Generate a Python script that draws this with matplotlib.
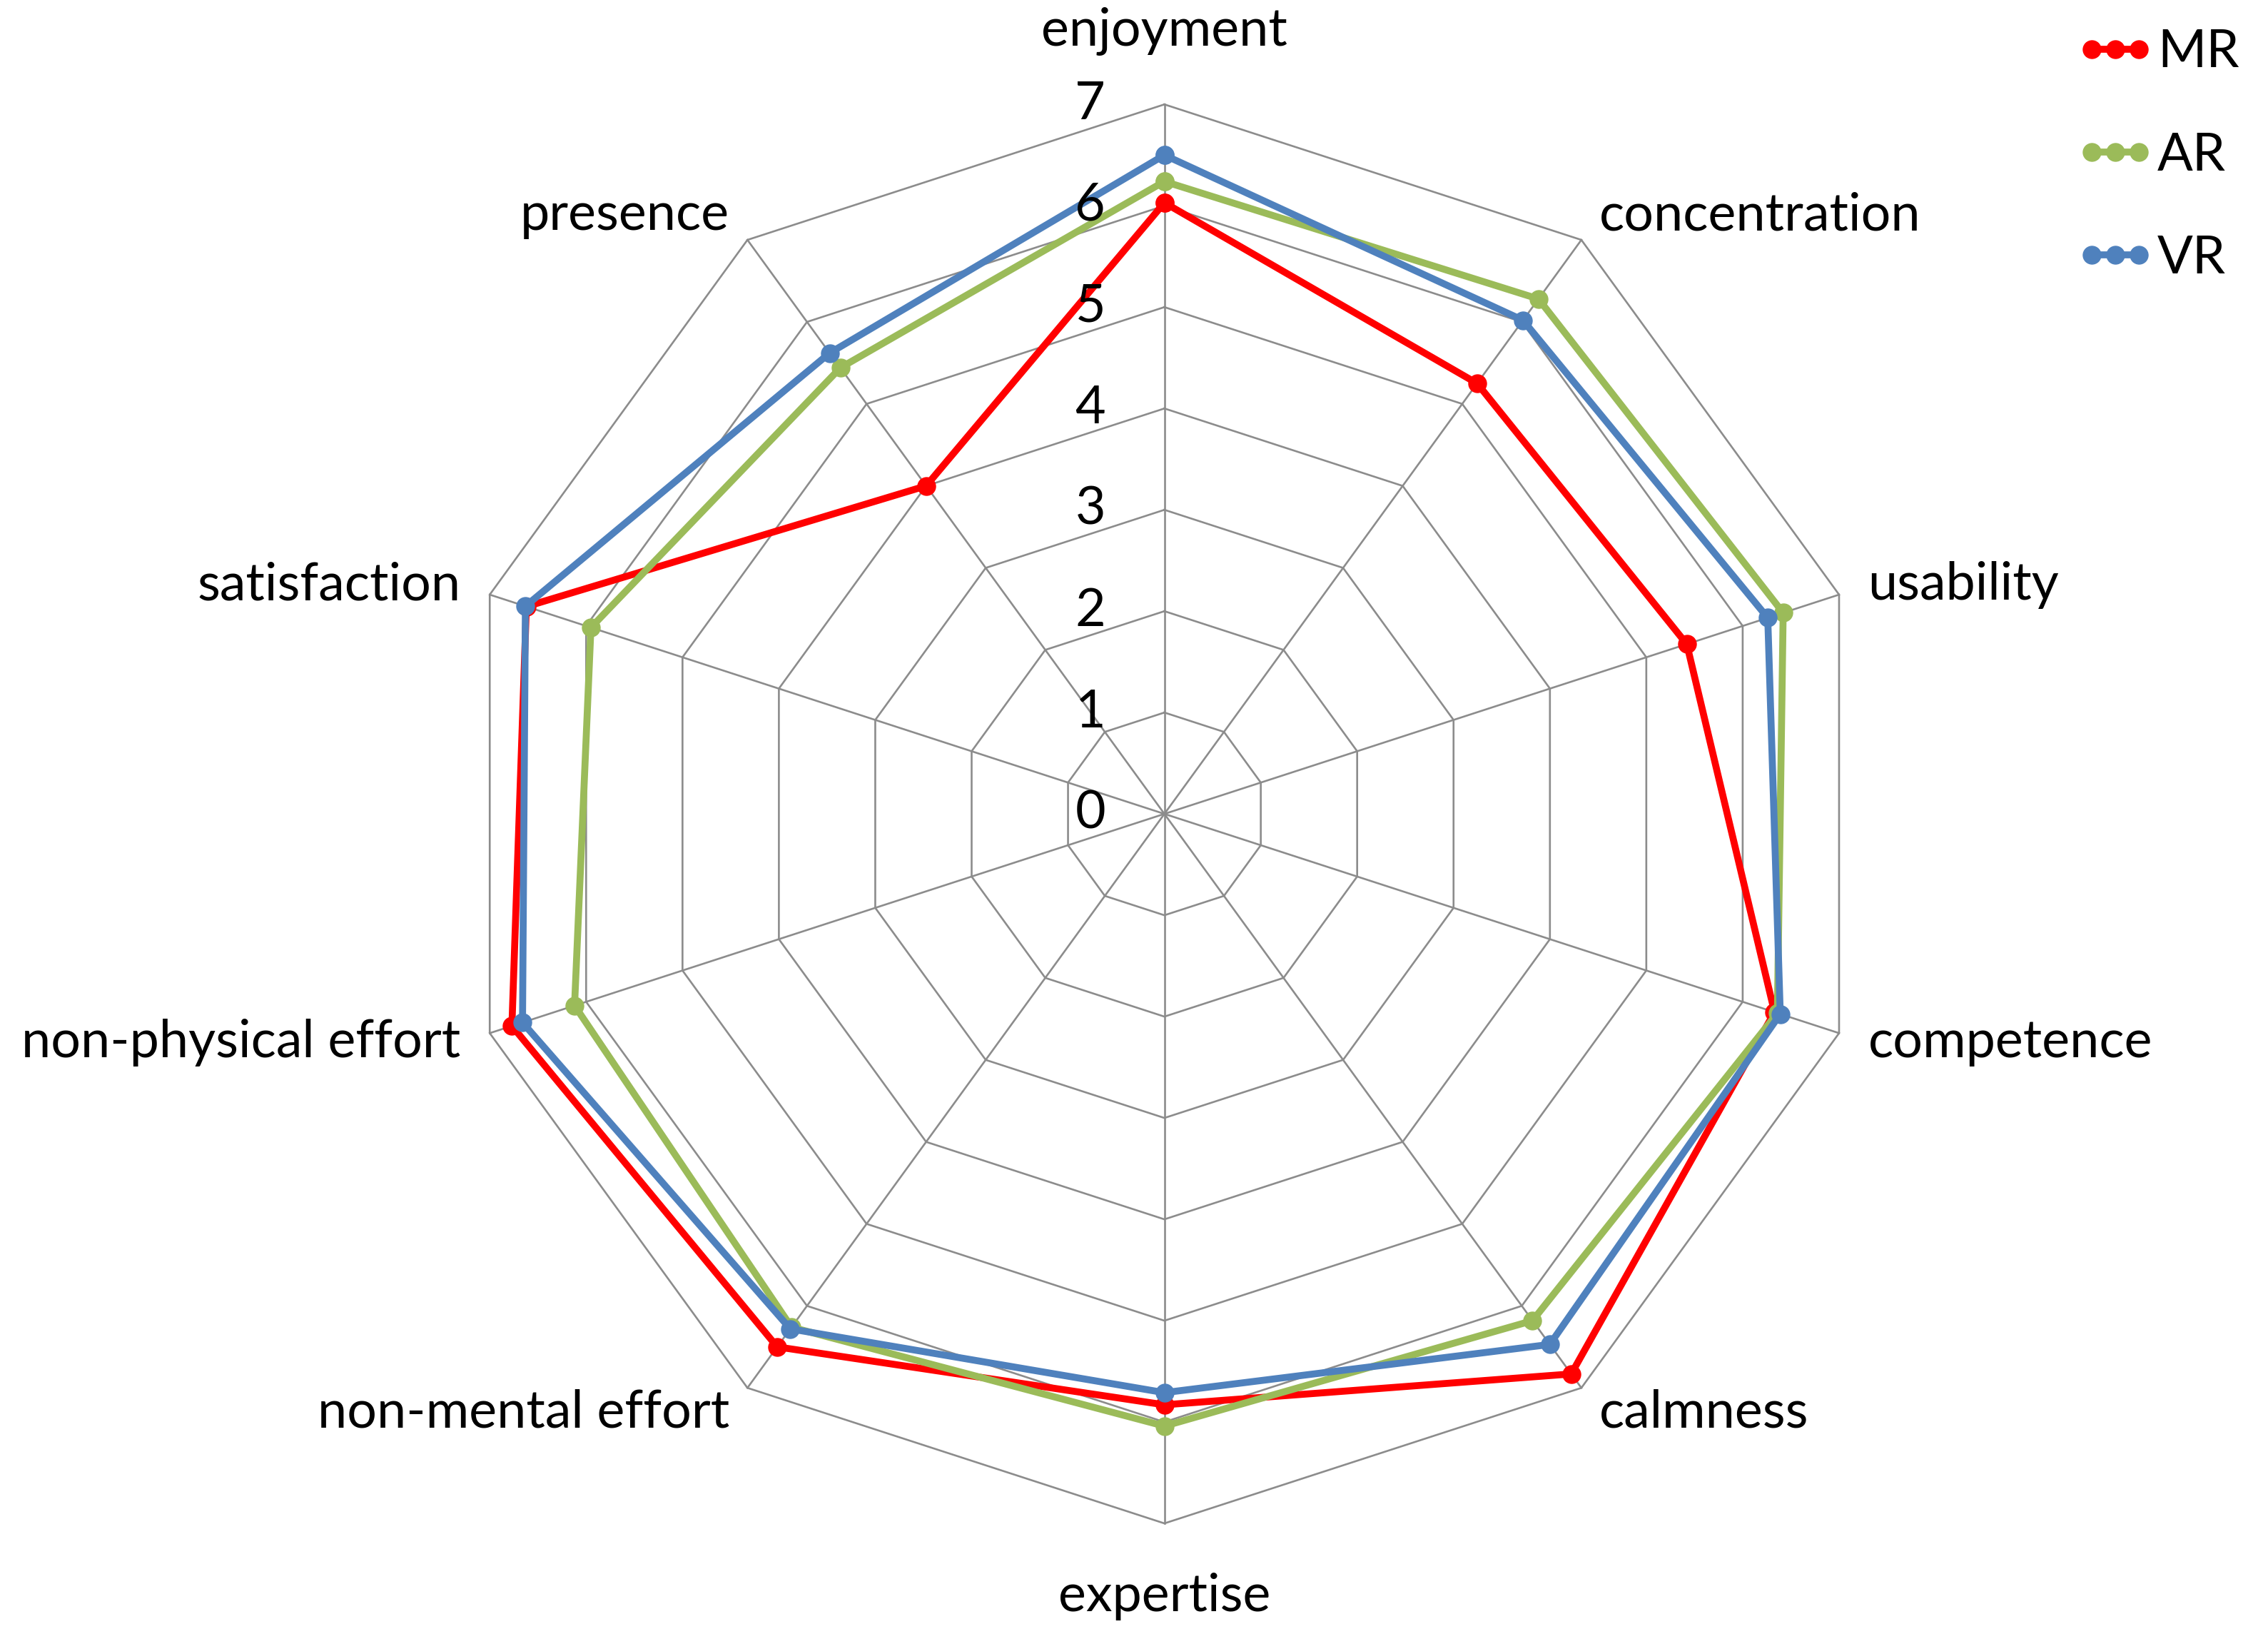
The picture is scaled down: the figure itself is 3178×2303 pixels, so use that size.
import numpy as np
import matplotlib.pyplot as plt

plt.rcParams['font.family'] = ['Lato', 'DejaVu Sans']

categories = ['enjoyment', 'concentration', 'usability', 'competence', 'calmness',
              'expertise', 'non-mental effort', 'non-physical effort', 'satisfaction', 'presence']
mr = [6.03, 5.25, 5.42, 6.33, 6.83, 5.83, 6.50, 6.77, 6.62, 4.00]
ar = [6.24, 6.28, 6.42, 6.36, 6.18, 6.04, 6.26, 6.12, 5.95, 5.44]
vr = [6.50, 6.02, 6.26, 6.39, 6.47, 5.71, 6.28, 6.66, 6.63, 5.62]
tick_values = [0, 1, 2, 3, 4, 5, 6, 7]

series = [('MR', mr, '#FF0000'), ('AR', ar, '#9BBB59'), ('VR', vr, '#4F81BD')]

n = len(categories)
angles = np.arange(n) * 2 * np.pi / n


def to_xy(r, a):
    r = np.asarray(r, dtype=float)
    return r * np.sin(a), r * np.cos(a)


fig = plt.figure(figsize=(31.78, 23.03), dpi=100)
ax = fig.add_axes([0, 0, 1, 1])
ax.set_xlim(-11.49, 10.89)
ax.set_ylim(-8.19, 8.03)
ax.axis('off')

grid_col = '#8C8C8C'
closed = np.append(angles, angles[0])
# rings
for t in tick_values[1:]:
    x, y = to_xy(np.full(n + 1, t), closed)
    ax.plot(x, y, color=grid_col, lw=1.9, zorder=1)
# spokes
for a in angles:
    x, y = to_xy([0, tick_values[-1]], np.array([a, a]))
    ax.plot(x, y, color=grid_col, lw=1.9, zorder=1)

# data
for name, vals, col in series:
    x, y = to_xy(np.append(vals, vals[0]), closed)
    ax.plot(x, y, color=col, lw=7, marker='o', markersize=18, label=name,
            solid_joinstyle='round', zorder=3)

# tick labels
for t in tick_values:
    ax.text(-0.58, t, str(t), ha='right', va='center', fontsize=53, zorder=4)

# category labels
for cat, a in zip(categories, angles):
    s = np.sin(a)
    if abs(s) < 1e-6:
        x, y = to_xy(7.72, a)
        ax.text(x, y, cat, ha='center', va='center', fontsize=53)
    else:
        x, y = to_xy(7.3, a)
        ax.text(x, y, cat, ha='left' if s > 0 else 'right', va='center', fontsize=53)

ax.legend(loc='upper right', bbox_to_anchor=(1.0, 1.0), bbox_transform=fig.transFigure,
          frameon=False, fontsize=53, numpoints=3, handlelength=1.5,
          handletextpad=0.05, labelspacing=1.05, borderaxespad=0.15)

fig.savefig('out.png', dpi=100)
